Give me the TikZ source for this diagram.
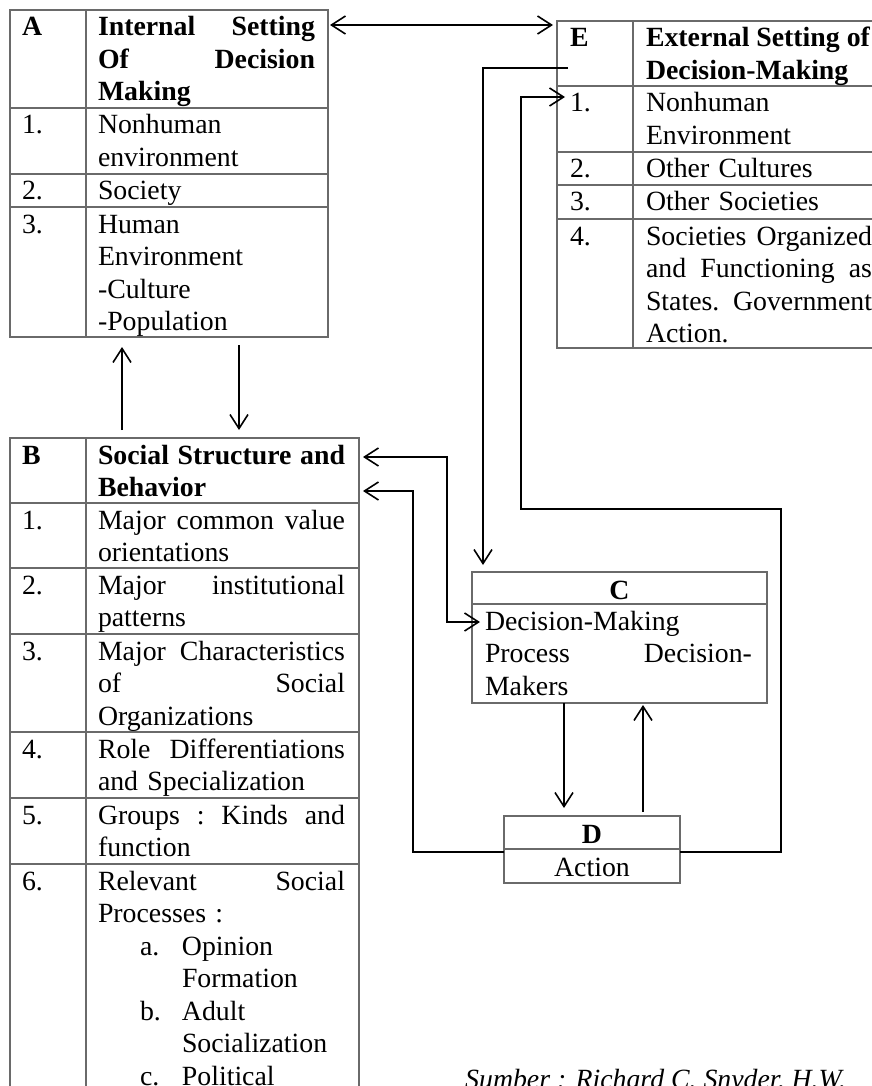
\documentclass[tikz,border=0pt]{standalone}
\usepackage{fontspec}
\setmainfont{Liberation Serif}
\usetikzlibrary{arrows.meta,calc}
\definecolor{bordergray}{HTML}{6A6A6A}
\newcommand\fs{\fontsize{27.8pt}{32.5pt}\selectfont\parindent=0pt}
\newcommand\st{\rule{0pt}{26pt}}
\tikzset{
  cellbox/.style={draw=bordergray, line width=1.2pt, inner sep=0pt, outer sep=0pt, anchor=north west},
  txt/.style={anchor=north west, inner sep=0pt, outer sep=0pt, align=left, font=\fs, text=black},
  ctr/.style={anchor=base, inner sep=0pt, font=\fs, text=black},
  conn/.style={draw=black, line width=1.6pt, >={Straight Barb[length=14pt,width=18pt]}}
}
\begin{document}
\begin{tikzpicture}[x=1pt,y=-1pt]
\useasboundingbox (0,0) rectangle (872,1086);
\clip (0,0) rectangle (872,1086);
\fill[white] (0,0) rectangle (872,1086);
% ---------- Table A ----------
\node[cellbox, minimum width=76pt, minimum height=98pt] (A0l) at (10,10) {};
\node[cellbox, minimum width=242pt, minimum height=98pt] (A0r) at (86,10) {};
\node[cellbox, minimum width=76pt, minimum height=66pt] (A1l) at (10,108) {};
\node[cellbox, minimum width=242pt, minimum height=66pt] (A1r) at (86,108) {};
\node[cellbox, minimum width=76pt, minimum height=33pt] (A2l) at (10,174) {};
\node[cellbox, minimum width=242pt, minimum height=33pt] (A2r) at (86,174) {};
\node[cellbox, minimum width=76pt, minimum height=130pt] (A3l) at (10,207) {};
\node[cellbox, minimum width=242pt, minimum height=130pt] (A3r) at (86,207) {};
\node[txt] (A0n) at ([shift={(12,0)}]A0l.north west) {\st\textbf{A}};
\node[txt, text width=217pt] (A0t) at ([shift={(12,0)}]A0r.north west) {\st\textbf{Internal}\hfill\textbf{Setting}\\\textbf{Of}\hfill\textbf{Decision}\\\textbf{Making}};
\node[txt] (A1n) at ([shift={(12,0)}]A1l.north west) {\st 1.};
\node[txt, text width=217pt] (A1t) at ([shift={(12,0)}]A1r.north west) {\st Nonhuman\\environment};
\node[txt] (A2n) at ([shift={(12,0)}]A2l.north west) {\st 2.};
\node[txt, text width=217pt] (A2t) at ([shift={(12,0)}]A2r.north west) {\st Society};
\node[txt] (A3n) at ([shift={(12,0)}]A3l.north west) {\st 3.};
\node[txt, text width=217pt] (A3t) at ([shift={(12,0)}]A3r.north west) {\st Human\\Environment\\-Culture\\-Population};
% ---------- Table E ----------
\node[cellbox, minimum width=76pt, minimum height=65pt] (E0l) at (557,21) {};
\node[cellbox, minimum width=249pt, minimum height=65pt] (E0r) at (633,21) {};
\node[cellbox, minimum width=76pt, minimum height=66pt] (E1l) at (557,86) {};
\node[cellbox, minimum width=249pt, minimum height=66pt] (E1r) at (633,86) {};
\node[cellbox, minimum width=76pt, minimum height=33pt] (E2l) at (557,152) {};
\node[cellbox, minimum width=249pt, minimum height=33pt] (E2r) at (633,152) {};
\node[cellbox, minimum width=76pt, minimum height=34pt] (E3l) at (557,185) {};
\node[cellbox, minimum width=249pt, minimum height=34pt] (E3r) at (633,185) {};
\node[cellbox, minimum width=76pt, minimum height=129pt] (E4l) at (557,219) {};
\node[cellbox, minimum width=249pt, minimum height=129pt] (E4r) at (633,219) {};
\node[txt] (E0n) at ([shift={(13,0)}]E0l.north west) {\st\textbf{E}};
\node[txt] (E0t) at ([shift={(13,0)}]E0r.north west) {\st\textbf{External Setting of}\\\textbf{Decision-Making}};
\node[txt] (E1n) at ([shift={(13,0)}]E1l.north west) {\st 1.};
\node[txt, text width=226pt] (E1t) at ([shift={(13,0)}]E1r.north west) {\st Nonhuman\\Environment};
\node[txt] (E2n) at ([shift={(13,0)}]E2l.north west) {\st 2.};
\node[txt, text width=226pt] (E2t) at ([shift={(13,0)}]E2r.north west) {\st Other Cultures};
\node[txt] (E3n) at ([shift={(13,0)}]E3l.north west) {\st 3.};
\node[txt, text width=226pt] (E3t) at ([shift={(13,0)}]E3r.north west) {\st Other Societies};
\node[txt] (E4n) at ([shift={(13,0)}]E4l.north west) {\st 4.};
\node[txt, text width=226pt] (E4t) at ([shift={(13,0)}]E4r.north west) {\st Societies\hfill Organized\\and\hfill Functioning\hfill as\\States.\hfill Government\\Action.};
% ---------- Table B ----------
\node[cellbox, minimum width=76pt, minimum height=65pt] (B0l) at (10,438) {};
\node[cellbox, minimum width=273pt, minimum height=65pt] (B0r) at (86,438) {};
\node[cellbox, minimum width=76pt, minimum height=65pt] (B1l) at (10,503) {};
\node[cellbox, minimum width=273pt, minimum height=65pt] (B1r) at (86,503) {};
\node[cellbox, minimum width=76pt, minimum height=66pt] (B2l) at (10,568) {};
\node[cellbox, minimum width=273pt, minimum height=66pt] (B2r) at (86,568) {};
\node[cellbox, minimum width=76pt, minimum height=98pt] (B3l) at (10,634) {};
\node[cellbox, minimum width=273pt, minimum height=98pt] (B3r) at (86,634) {};
\node[cellbox, minimum width=76pt, minimum height=66pt] (B4l) at (10,732) {};
\node[cellbox, minimum width=273pt, minimum height=66pt] (B4r) at (86,732) {};
\node[cellbox, minimum width=76pt, minimum height=66pt] (B5l) at (10,798) {};
\node[cellbox, minimum width=273pt, minimum height=66pt] (B5r) at (86,798) {};
\node[cellbox, minimum width=76pt, minimum height=250pt] (B6l) at (10,864) {};
\node[cellbox, minimum width=273pt, minimum height=250pt] (B6r) at (86,864) {};
\node[txt] (B0n) at ([shift={(12,0)}]B0l.north west) {\st\textbf{B}};
\node[txt, text width=247pt] (B0t) at ([shift={(12,0)}]B0r.north west) {\st\textbf{Social}\hfill\textbf{Structure}\hfill\textbf{and}\\\textbf{Behavior}};
\node[txt] (B1n) at ([shift={(12,0)}]B1l.north west) {\st 1.};
\node[txt, text width=247pt] (B1t) at ([shift={(12,0)}]B1r.north west) {\st Major\hfill common\hfill value\\orientations};
\node[txt] (B2n) at ([shift={(12,0)}]B2l.north west) {\st 2.};
\node[txt, text width=247pt] (B2t) at ([shift={(12,0)}]B2r.north west) {\st Major\hfill institutional\\patterns};
\node[txt] (B3n) at ([shift={(12,0)}]B3l.north west) {\st 3.};
\node[txt, text width=247pt] (B3t) at ([shift={(12,0)}]B3r.north west) {\st Major\hfill Characteristics\\of\hfill Social\\Organizations};
\node[txt] (B4n) at ([shift={(12,0)}]B4l.north west) {\st 4.};
\node[txt, text width=247pt] (B4t) at ([shift={(12,0)}]B4r.north west) {\st Role\hfill Differentiations\\and Specialization};
\node[txt] (B5n) at ([shift={(12,0)}]B5l.north west) {\st 5.};
\node[txt, text width=247pt] (B5t) at ([shift={(12,0)}]B5r.north west) {\st Groups\hfill :\hfill Kinds\hfill and\\function};
\node[txt] (B6n) at ([shift={(12,0)}]B6l.north west) {\st 6.};
\node[txt, text width=247pt] (B6t) at ([shift={(12,0)}]B6r.north west) {\st Relevant\hfill Social\\Processes :\\
\hspace*{42pt}\makebox[42pt][l]{a.}Opinion\\
\hspace*{84pt}Formation\\
\hspace*{42pt}\makebox[42pt][l]{b.}Adult\\
\hspace*{84pt}Socialization\\
\hspace*{42pt}\makebox[42pt][l]{c.}Political};
% ---------- Box C ----------
\node[cellbox, minimum width=295pt, minimum height=32pt] (C0) at (472,572) {};
\node[cellbox, minimum width=295pt, minimum height=99pt] (C1) at (472,604) {};
\node[ctr] (C0t) at ([shift={(0,27)}]C0.north) {\textbf{C}};
\node[txt, text width=267pt] (C1t) at ([shift={(13,0)}]C1.north west) {\st Decision-Making\\Process\hfill Decision-\\Makers};
% ---------- Box D ----------
\node[cellbox, minimum width=176pt, minimum height=33pt] (D0) at (504,816) {};
\node[cellbox, minimum width=176pt, minimum height=34pt] (D1) at (504,849) {};
\node[ctr] (D0t) at ([shift={(0,27)}]D0.north) {\textbf{D}};
\node[ctr] (D1t) at ([shift={(0,27)}]D1.north) {Action};
% ---------- bend points ----------
\coordinate (k1) at (781,509);
\coordinate (k2) at (521,509);
\coordinate (k3) at (413,491);
\coordinate (k4) at (447,457);
% ---------- connectors ----------
\draw[conn,<->] ([shift={(2,15)}]A0r.north east) -- ([shift={(-4,4)}]E0l.north west);
\draw[conn,->] ([shift={(11,-18)}]E0l.south west) -| ([shift={(11,-7)}]C0.north west);
\draw[conn,->] ([shift={(0,3)}]D1.north east) -| (k1) -- (k2) |- ([shift={(8,11)}]E1l.north west);
\draw[conn,->] ([shift={(0,3)}]D1.north west) -| (k3) -- ([shift={(4,53)}]B0r.north east);
\draw[conn,<->] ([shift={(4,19)}]B0r.north east) -- (k4) |- ([shift={(8,18)}]C1.north west);
\draw[conn,->] ([shift={(92,0)}]C1.south west) -- ([shift={(60,-8)}]D0.north west);
\draw[conn,->] ([shift={(139,-4)}]D0.north west) -- ([shift={(171,2)}]C1.south west);
\draw[conn,->] ([shift={(36,-8)}]B0r.north west) -- ([shift={(36,10)}]A3r.south west);
\draw[conn,->] ([shift={(153,8)}]A3r.south west) -- ([shift={(153,-8)}]B0r.north west);
% ---------- source ----------
\node[anchor=base west, inner sep=0pt, font=\fs\itshape] (src) at (465,1088) {Sumber : Richard C. Snyder, H.W.};
\end{tikzpicture}
\end{document}
